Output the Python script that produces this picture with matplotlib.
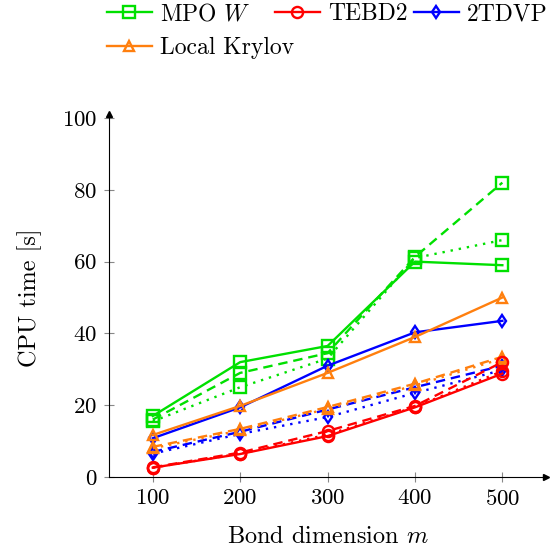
import matplotlib.pyplot as plt
from matplotlib.lines import Line2D

plt.rcParams['font.family'] = 'cmr10'
plt.rcParams['mathtext.fontset'] = 'cm'
plt.rcParams['axes.formatter.use_mathtext'] = True

m = [100, 200, 300, 400, 500]

# CPU time [s]; solid / dashed / dotted runs for each method
mpo_solid =   [17.0, 32.0, 36.5, 60.0, 59.0]
mpo_dashed =  [16.0, 29.0, 34.5, 61.3, 82.0]
mpo_dotted =  [15.5, 25.0, 33.0, 61.0, 66.0]

tebd_solid =  [2.6, 6.4, 11.4, 19.4, 28.8]
tebd_dashed = [2.7, 6.8, 12.8, 19.8, 32.0]
tebd_dotted = [2.6, 6.5, 11.8, 19.5, 29.5]

tdvp_solid =  [10.8, 19.4, 31.0, 40.3, 43.5]
tdvp_dashed = [7.0, 12.6, 18.8, 25.0, 31.0]
tdvp_dotted = [6.5, 12.0, 16.7, 23.4, 29.8]

kry_solid =   [11.7, 19.8, 29.0, 39.0, 50.0]
kry_dashed =  [8.4, 13.4, 19.5, 26.0, 33.5]
kry_dotted =  [8.0, 13.0, 19.0, 25.5, 33.0]

labels = ['MPO $W$', 'TEBD2', '2TDVP', 'Local Krylov']
colors = ['#00e000', '#ff0000', '#0000ff', '#ff7f0e']
markers = ['s', 'o', 'd', '^']
msizes = [8.5, 8, 6, 7]
series = [
    (mpo_solid, mpo_dashed, mpo_dotted),
    (tebd_solid, tebd_dashed, tebd_dotted),
    (tdvp_solid, tdvp_dashed, tdvp_dotted),
    (kry_solid, kry_dashed, kry_dotted),
]
styles = ['-', (0, (4, 2.5)), (0, (1, 2.5))]

fig = plt.figure(figsize=(5.51, 5.51), dpi=100)
ax = fig.add_axes([0.198, 0.1343, 0.793, 0.6515])

order = [0, 2, 3, 1]
for i in order:
    for ys, ls in zip(series[i], styles):
        ax.plot(m, ys, color=colors[i], linestyle=ls, lw=1.7,
                marker=markers[i], ms=msizes[i], mfc='none', mew=1.7)

ax.set_xlim(50, 550)
ax.set_ylim(0, 100)
ax.set_xticks(m)
ax.set_yticks([0, 20, 40, 60, 80, 100])
ax.tick_params(direction='inout', length=7, color='#888888', labelsize=16.5, pad=5)
for s in ['top', 'right']:
    ax.spines[s].set_visible(False)
ax.spines['left'].set_bounds(0, 101)
ax.plot(1, 0, '>k', ms=5, transform=ax.transAxes, clip_on=False)
ax.plot(0, 1.01, '^k', ms=5, transform=ax.transAxes, clip_on=False)

ax.set_xlabel('Bond dimension $m$', fontsize=17.5, labelpad=12)
ax.set_ylabel('CPU time [s]', fontsize=17.5, labelpad=14)

# legend entries laid out like the original (3 on the first row, 1 below)
leg_pos = [(107, 14), (275, 14), (414, 14), (107, 48)]
for c, mk, ms, lab, (px, py) in zip(colors, markers, msizes, labels, leg_pos):
    h = Line2D([], [], color=c, lw=1.7, marker=mk, ms=ms, mfc='none', mew=1.7)
    fig.legend([h], [lab], loc='center left',
               bbox_to_anchor=(px / 551, 1 - py / 551),
               frameon=False, fontsize=17, handlelength=1.9,
               handletextpad=0.35, borderaxespad=0, borderpad=0)

fig.savefig('out.png', dpi=100)
